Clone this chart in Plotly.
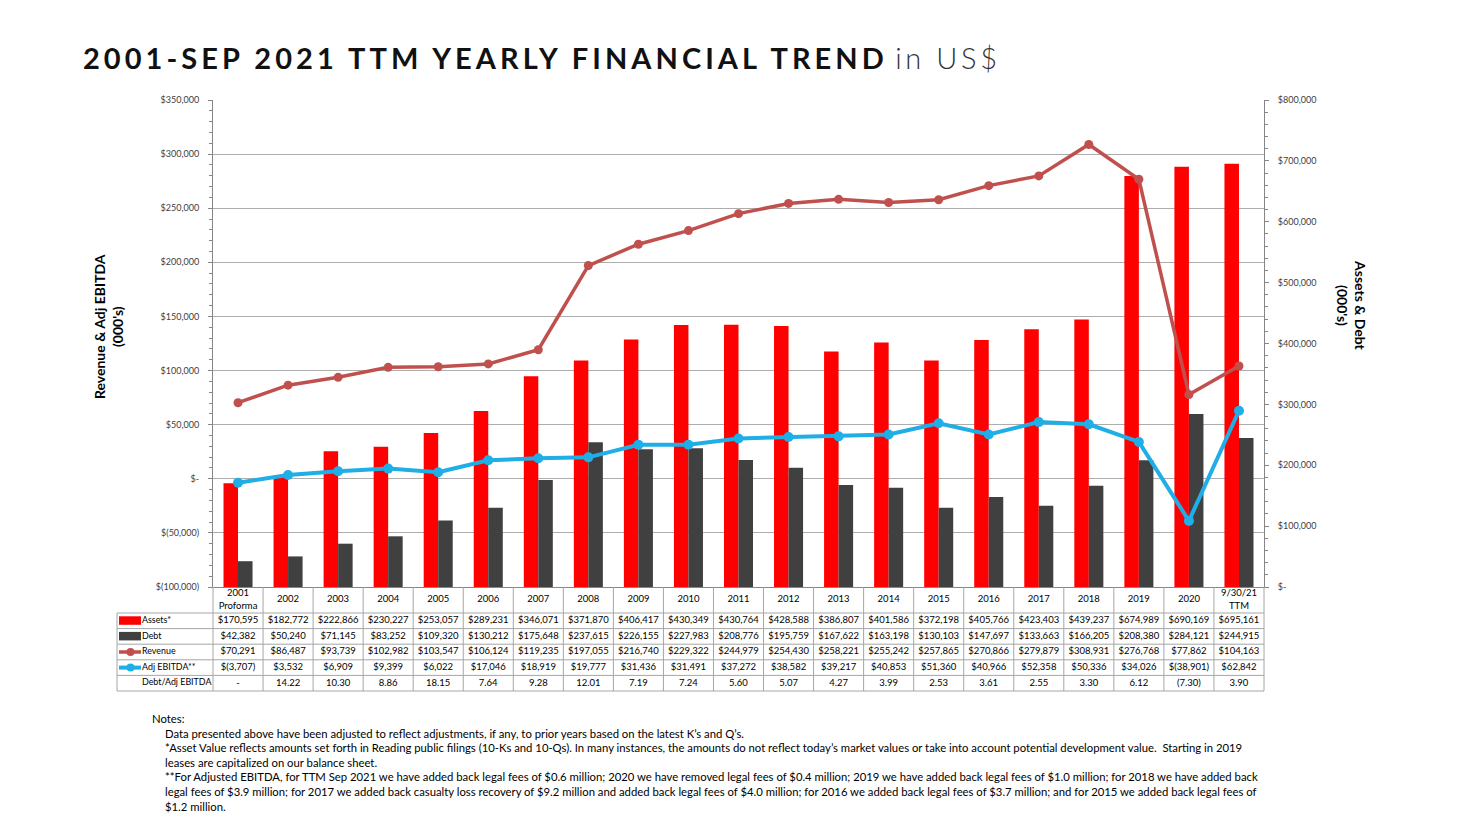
import plotly.graph_objects as go

# ---------------- data ----------------
periods = ["2001<br>Proforma", "2002", "2003", "2004", "2005", "2006", "2007", "2008",
           "2009", "2010", "2011", "2012", "2013", "2014", "2015", "2016", "2017",
           "2018", "2019", "2020", "9/30/21<br>TTM"]
assets = [170595, 182772, 222866, 230227, 253057, 289231, 346071, 371870, 406417, 430349,
          430764, 428588, 386807, 401586, 372198, 405766, 423403, 439237, 674989, 690169, 695161]
debt = [42382, 50240, 71145, 83252, 109320, 130212, 175648, 237615, 226155, 227983,
        208776, 195759, 167622, 163198, 130103, 147697, 133663, 166205, 208380, 284121, 244915]
revenue = [70291, 86487, 93739, 102982, 103547, 106124, 119235, 197055, 216740, 229322,
           244979, 254430, 258221, 255242, 257865, 270866, 279879, 308931, 276768, 77862, 104163]
adj_ebitda = [-3707, 3532, 6909, 9399, 6022, 17046, 18919, 19777, 31436, 31491,
              37272, 38582, 39217, 40853, 51360, 40966, 52358, 50336, 34026, -38901, 62842]
debt_to_ebitda = ["-", "14.22", "10.30", "8.86", "18.15", "7.64", "9.28", "12.01", "7.19", "7.24",
                  "5.60", "5.07", "4.27", "3.99", "2.53", "3.61", "2.55", "3.30", "6.12", "(7.30)", "3.90"]
row_labels = ["Assets*", "Debt", "Revenue", "Adj EBITDA**", "Debt/Adj EBITDA"]

left_tickvals = [-100000, -50000, 0, 50000, 100000, 150000, 200000, 250000, 300000, 350000]
left_ticktext = ["$(100,000)", "$(50,000)", "$-", "$50,000", "$100,000", "$150,000",
                 "$200,000", "$250,000", "$300,000", "$350,000"]
right_tickvals = [0, 100000, 200000, 300000, 400000, 500000, 600000, 700000, 800000]
right_ticktext = ["$-", "$100,000", "$200,000", "$300,000", "$400,000", "$500,000",
                  "$600,000", "$700,000", "$800,000"]

title_main = "2001-SEP 2021 TTM YEARLY FINANCIAL TREND"
title_unit = "in US$"
left_title = "Revenue & Adj EBITDA<br>(000's)"
right_title = "Assets & Debt<br>(000's)"
notes_head = "Notes:"
notes_lines = [
    "Data presented above have been adjusted to reflect adjustments, if any, to prior years based on the latest K\u2019s and Q\u2019s.",
    "*Asset Value reflects amounts set forth in Reading public filings (10-Ks and 10-Qs). In many instances, the amounts do not reflect today\u2019s market values or take into account potential development value.&nbsp; Starting in 2019",
    "leases are capitalized on our balance sheet.",
    "**For Adjusted EBITDA, for TTM Sep 2021 we have added back legal fees of $0.6 million; 2020 we have removed legal fees of $0.4 million; 2019 we have added back legal fees of $1.0 million; for 2018 we have added back",
    "legal fees of $3.9 million; for 2017 we added back casualty loss recovery of $9.2 million and added back legal fees of $4.0 million; for 2016 we added back legal fees of $3.7 million; and for 2015 we added back legal fees of",
    "$1.2 million.",
]


def money(v):
    return f"${v:,}" if v >= 0 else f"$({-v:,})"


# ---------------- geometry (pixels) ----------------
FIG_W, FIG_H = 1460, 819
PLOT_L, PLOT_R, PLOT_T, PLOT_B = 213, 1264, 100, 587
TABLE_L = 116
LABEL_L = 117
HEADER_H, ROW_H = 26, 15.6
TABLE_H = HEADER_H + 5 * ROW_H
TABLE_B = PLOT_B + TABLE_H + 1

paper_w = PLOT_R - TABLE_L
paper_h = TABLE_B - PLOT_T
n = len(periods)
unit = (PLOT_R - PLOT_L) / n
idx = list(range(n))


def xp(px):
    return (px - TABLE_L) / paper_w


def yp(py):
    return (TABLE_B - py) / paper_h


FONT = "Lato"
RED = "#FF0000"
DARK = "#404040"
REV = "#C0504D"
BLUE = "#1FAEE6"
AXIS = "#868686"
GRID = "#ADADAD"
TBL = "#A6A6A6"

fig = go.Figure()

# bars (right axis, primary y)
fig.add_trace(go.Bar(x=idx, y=assets, name="Assets*", marker=dict(color=RED, line=dict(width=0)),
                     xaxis="x", yaxis="y"))
fig.add_trace(go.Bar(x=idx, y=debt, name="Debt", marker=dict(color=DARK, line=dict(width=0)),
                     xaxis="x", yaxis="y"))
# lines (left axis, overlay y2)
fig.add_trace(go.Scatter(x=idx, y=revenue, name="Revenue", mode="lines+markers",
                         line=dict(color=REV, width=3.5), marker=dict(color=REV, size=9),
                         xaxis="x", yaxis="y2", cliponaxis=False))
fig.add_trace(go.Scatter(x=idx, y=adj_ebitda, name="Adj EBITDA**", mode="lines+markers",
                         line=dict(color=BLUE, width=4), marker=dict(color=BLUE, size=10),
                         xaxis="x", yaxis="y2", cliponaxis=False))

# ---------------- data table (x2 / y3) ----------------
tfont = dict(family=FONT, size=9.5, color="#000000")
lfont = dict(family=FONT, size=8.9, color="#000000")
fig.add_trace(go.Scatter(x=idx, y=[HEADER_H / 2] * n, text=periods, mode="text",
                         textposition="middle center", textfont=tfont,
                         xaxis="x2", yaxis="y3", cliponaxis=False, hoverinfo="skip"))
rows = [[money(v) for v in assets], [money(v) for v in debt], [money(v) for v in revenue],
        [money(v) for v in adj_ebitda], debt_to_ebitda]
row_centers = [HEADER_H + ROW_H * (r + 0.5) for r in range(len(rows))]
for r, vals in enumerate(rows):
    fig.add_trace(go.Scatter(x=idx, y=[row_centers[r]] * n, text=vals, mode="text",
                             textposition="middle center", textfont=tfont,
                             xaxis="x2", yaxis="y3", cliponaxis=False, hoverinfo="skip"))
label_x = -0.5 - (PLOT_L - 142) / unit
fig.add_trace(go.Scatter(x=[label_x] * len(row_labels), y=row_centers, text=row_labels,
                         mode="text", textposition="middle right", textfont=lfont,
                         xaxis="x2", yaxis="y3", cliponaxis=False, hoverinfo="skip"))

shapes = []
# vertical table borders
for k in range(n + 1):
    xpx = PLOT_L + k * unit
    shapes.append(dict(type="line", xref="paper", yref="paper", x0=xp(xpx), x1=xp(xpx),
                       y0=yp(PLOT_B), y1=yp(PLOT_B + TABLE_H), line=dict(color=TBL, width=1)))
shapes.append(dict(type="line", xref="paper", yref="paper", x0=xp(LABEL_L), x1=xp(LABEL_L),
                   y0=yp(PLOT_B + HEADER_H), y1=yp(PLOT_B + TABLE_H), line=dict(color=TBL, width=1)))
# horizontal table borders
for r in range(len(rows) + 1):
    py = PLOT_B + HEADER_H + r * ROW_H
    shapes.append(dict(type="line", xref="paper", yref="paper", x0=xp(LABEL_L), x1=xp(PLOT_R),
                       y0=yp(py), y1=yp(py), line=dict(color=TBL, width=1)))
# legend keys
key_l, key_r = 119, 141
for r, col in [(0, RED), (1, DARK)]:
    c = PLOT_B + row_centers[r]
    shapes.append(dict(type="rect", xref="paper", yref="paper", x0=xp(key_l), x1=xp(key_r),
                       y0=yp(c - 4.5), y1=yp(c + 4), fillcolor=col, line=dict(width=0)))
for r, col, w in [(2, REV, 3.5), (3, BLUE, 4)]:
    c = PLOT_B + row_centers[r]
    shapes.append(dict(type="line", xref="paper", yref="paper", x0=xp(key_l), x1=xp(key_r),
                       y0=yp(c), y1=yp(c), line=dict(color=col, width=w)))
    shapes.append(dict(type="circle", xref="paper", yref="paper", x0=xp(126.5), x1=xp(134.5),
                       y0=yp(c - 4), y1=yp(c + 4), fillcolor=col, line=dict(width=0)))

NOTE_FONT = dict(family=FONT, size=11.3, color="#000000")
annotations = [
    dict(text=left_title, textangle=-90, xref="paper", yref="paper", x=xp(108), y=yp(327),
         xanchor="center", yanchor="middle", showarrow=False,
         font=dict(family=FONT, size=14, color="#000000", weight="bold")),
    dict(text=right_title, textangle=90, xref="paper", yref="paper", x=xp(1352), y=yp(305),
         xanchor="center", yanchor="middle", showarrow=False,
         font=dict(family=FONT, size=14, color="#000000", weight="bold")),
    dict(text=notes_head, xref="paper", yref="paper", x=xp(150), y=yp(718),
         xanchor="left", yanchor="middle", showarrow=False, align="left", font=NOTE_FONT),
]
for i, line in enumerate(notes_lines):
    annotations.append(dict(text=line, xref="paper", yref="paper", x=xp(163), y=yp(733 + i * 14.6),
                            xanchor="left", yanchor="middle", showarrow=False, align="left",
                            font=NOTE_FONT))

title_text = (f"<span style='letter-spacing:4.05px'><b>{title_main}</b></span> "
              f"<span style='letter-spacing:3.6px;font-weight:300;fill:#333333'>{title_unit}</span>")

fig.update_layout(
    width=FIG_W, height=FIG_H,
    margin=dict(l=TABLE_L, r=FIG_W - PLOT_R, t=PLOT_T, b=FIG_H - TABLE_B, pad=0),
    paper_bgcolor="white", plot_bgcolor="white",
    showlegend=False, hovermode=False,
    barmode="group", bargap=0.42, bargroupgap=0,
    title=dict(text=title_text, xref="container", yref="container", x=83 / FIG_W, y=1 - 59 / FIG_H,
               xanchor="left", yanchor="middle",
               font=dict(family=FONT, size=29, color="#111111")),
    xaxis=dict(domain=[xp(PLOT_L), 1], range=[-0.5, n - 0.5], anchor="y",
               showticklabels=False, ticks="", showgrid=False, zeroline=False,
               showline=True, linecolor=AXIS, linewidth=1, fixedrange=True),
    yaxis=dict(domain=[yp(PLOT_B), 1], range=[0, 800000], side="right", anchor="x",
               tickmode="array", tickvals=right_tickvals, ticktext=right_ticktext,
               showgrid=False, zeroline=False, showline=True, linecolor=AXIS, linewidth=1,
               ticks="outside", ticklen=4, tickcolor=AXIS, ticklabelstandoff=7,
               minor=dict(tickmode="linear", tick0=0, dtick=20000, ticks="outside", ticklen=3,
                          tickcolor=AXIS, showgrid=False),
               tickfont=dict(family=FONT, size=9, color="#404040"), fixedrange=True),
    yaxis2=dict(range=[-100000, 350000], overlaying="y", side="left", anchor="x",
                tickmode="array", tickvals=left_tickvals, ticktext=left_ticktext,
                showgrid=True, gridcolor=GRID, gridwidth=1, zeroline=False,
                showline=True, linecolor=AXIS, linewidth=1,
                ticks="outside", ticklen=4, tickcolor=AXIS, ticklabelstandoff=7,
                minor=dict(tickmode="linear", tick0=0, dtick=10000, ticks="outside", ticklen=3,
                           tickcolor=AXIS, showgrid=False),
                tickfont=dict(family=FONT, size=9, color="#404040"), fixedrange=True),
    xaxis2=dict(domain=[0, 1], range=[-0.5 - (PLOT_L - TABLE_L) / unit, n - 0.5], anchor="y3",
                visible=False, fixedrange=True),
    yaxis3=dict(domain=[0, yp(PLOT_B)], range=[TABLE_B - PLOT_B, 0], anchor="x2",
                visible=False, fixedrange=True),
    shapes=shapes,
    annotations=annotations,
)

fig.write_html("out.html")
